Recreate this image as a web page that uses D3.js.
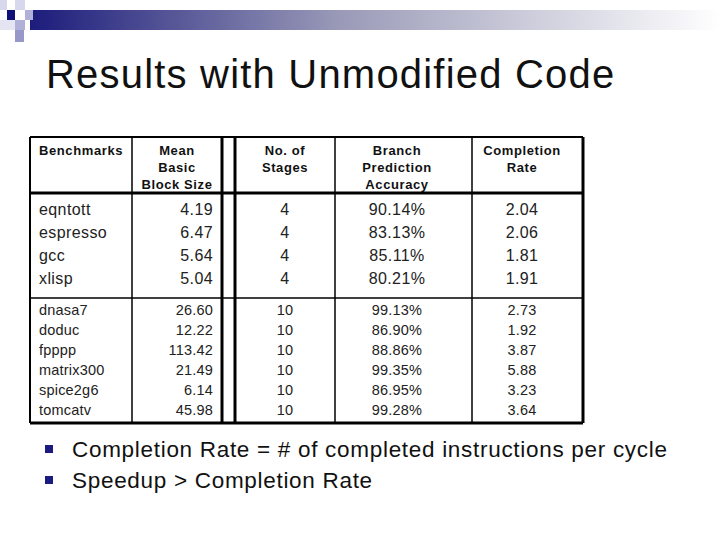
<!DOCTYPE html>
<html><head><meta charset="utf-8">
<script src="https://cdn.jsdelivr.net/npm/d3@7"></script>
<style>body{margin:0;background:#fff}svg{font-family:Arial,"Liberation Sans",sans-serif}</style>
</head><body><div id="slide"></div>
<script>
// table data
var headers = [["Benchmarks"], ["Mean", "Basic", "Block Size"], ["No. of", "Stages"], ["Branch", "Prediction", "Accuracy"], ["Completion", "Rate"]];
var intBench = ["eqntott", "espresso", "gcc", "xlisp"];
var intBlock = ["4.19", "6.47", "5.64", "5.04"];
var intStages = ["4", "4", "4", "4"];
var intBranch = ["90.14%", "83.13%", "85.11%", "80.21%"];
var intRate = ["2.04", "2.06", "1.81", "1.91"];
var fpBench = ["dnasa7", "doduc", "fpppp", "matrix300", "spice2g6", "tomcatv"];
var fpBlock = ["26.60", "12.22", "113.42", "21.49", "6.14", "45.98"];
var fpStages = ["10", "10", "10", "10", "10", "10"];
var fpBranch = ["99.13%", "86.90%", "88.86%", "99.35%", "86.95%", "99.28%"];
var fpRate = ["2.73", "1.92", "3.87", "5.88", "3.23", "3.64"];
var bullets = ["Completion Rate = # of completed instructions per cycle", "Speedup > Completion Rate"];

var svg = d3.select("#slide").append("svg").attr("width", 720).attr("height", 540);

// header band
var grad = svg.append("defs").append("linearGradient").attr("id", "band");
grad.append("stop").attr("offset", "0").attr("stop-color", "#1c1c7c");
grad.append("stop").attr("offset", "0.45").attr("stop-color", "#9a9ab8");
grad.append("stop").attr("offset", "1").attr("stop-color", "#ffffff");
svg.append("rect").attr("x", 30).attr("y", 10).attr("width", 690).attr("height", 20).attr("fill", "url(#band)");
var squares = [[0, 0, 7, 10, "#d8d8ec"], [15, 0, 10, 10, "#d8d8ec"], [25, 10, 8, 10, "#b0b0d8"], [7, 10, 8, 10, "#10107a"],
  [15, 20, 10, 10, "#b0b0d8"], [15, 30, 9, 12, "#9898c8"], [0, 20, 15, 10, "#e4e4f2"]];
svg.selectAll("rect.sq").data(squares).enter().append("rect").attr("class", "sq")
  .attr("x", d => d[0]).attr("y", d => d[1]).attr("width", d => d[2]).attr("height", d => d[3]).attr("fill", d => d[4]);

svg.append("text").attr("x", 46).attr("y", 88).attr("font-size", 40).attr("letter-spacing", 1.2)
  .attr("fill", "#111").text("Results with Unmodified Code");

// column geometry
var colX = d3.scaleOrdinal().domain(d3.range(5)).range([39, 213, 285, 397, 522]);
var colAnchor = ["start", "end", "middle", "middle", "middle"];
var hdrAnchor = ["start", "middle", "middle", "middle", "middle"];
var hdrX = [39, 177, 285, 397, 522];

// headers
headers.forEach(function (lines, i) {
  var t = svg.append("text").attr("font-size", 13).attr("font-weight", "bold").attr("letter-spacing", 0.6)
    .attr("text-anchor", hdrAnchor[i]).attr("fill", "#111");
  lines.forEach(function (l, k) {
    t.append("tspan").attr("x", hdrX[i]).attr("y", 155 + k * 17).text(l);
  });
});

function drawGroup(cols, y0, y1, size, ls) {
  var y = d3.scalePoint().domain(d3.range(cols[0].length)).range([y0, y1]);
  cols.forEach(function (vals, c) {
    svg.append("g").selectAll("text").data(vals).enter().append("text")
      .attr("x", colX(c)).attr("y", (d, i) => y(i)).attr("dy", "0.35em")
      .attr("text-anchor", colAnchor[c]).attr("font-size", size).attr("letter-spacing", ls)
      .attr("fill", "#222").text(d => d);
  });
}
drawGroup([intBench, intBlock, intStages, intBranch, intRate], 209, 278, 16, 0.4);
drawGroup([fpBench, fpBlock, fpStages, fpBranch, fpRate], 310, 410, 14.5, 0.2);

// grid lines
var lines = [
  [30, 137, 583, 137, 2], [30, 423, 583, 423, 3], [30, 137, 30, 423, 2], [583, 137, 583, 423, 3],
  [30, 193, 583, 193, 3], [30, 298, 583, 298, 1.5],
  [132, 137, 132, 423, 1.5], [222, 137, 222, 423, 3], [235, 137, 235, 423, 3],
  [335, 137, 335, 423, 1.5], [472, 137, 472, 423, 1.5]];
svg.selectAll("line.g").data(lines).enter().append("line").attr("class", "g")
  .attr("x1", d => d[0]).attr("y1", d => d[1]).attr("x2", d => d[2]).attr("y2", d => d[3])
  .attr("stroke", "#000").attr("stroke-width", d => d[4]);

// bullets
var by = d3.scalePoint().domain(d3.range(bullets.length)).range([449, 480]);
var bg = svg.append("g").selectAll("g").data(bullets).enter().append("g")
  .attr("transform", (d, i) => "translate(0," + by(i) + ")");
bg.append("rect").attr("x", 45).attr("y", -4).attr("width", 8).attr("height", 8).attr("fill", "#1a1a80");
bg.append("text").attr("x", 72).attr("dy", "0.35em").attr("font-size", 22.5).attr("letter-spacing", 0.7)
  .attr("fill", "#111").text(d => d);
</script></body></html>
